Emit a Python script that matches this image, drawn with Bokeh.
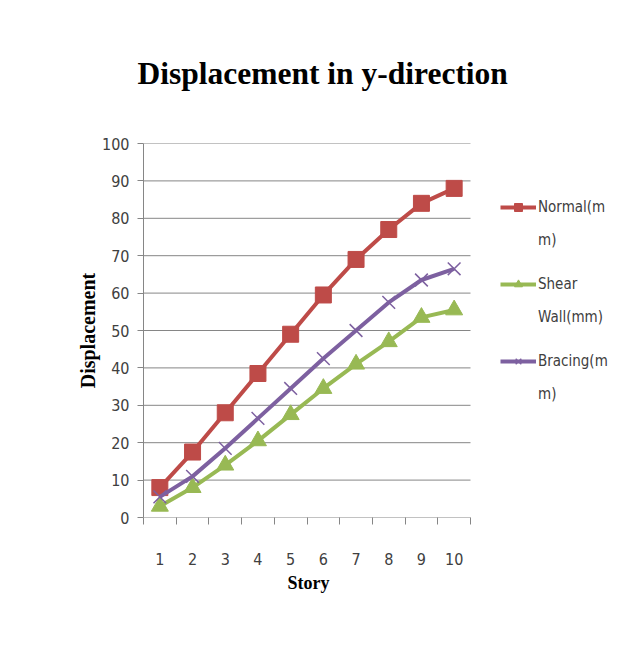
from bokeh.plotting import figure
from bokeh.models import FixedTicker, Legend, LegendItem, Range1d, Title
from bokeh.embed import file_html
from bokeh.resources import INLINE

stories = [1, 2, 3, 4, 5, 6, 7, 8, 9, 10]
story_labels = ["1", "2", "3", "4", "5", "6", "7", "8", "9", "10"]
normal = [8, 17.5, 28, 38.5, 49, 59.5, 69, 77, 84, 88]
shear_wall = [3, 8, 14, 20.5, 27.5, 34.5, 41, 47, 53.5, 55.5]
bracing = [5.5, 11, 18.5, 26.5, 34.5, 42.5, 50, 57.5, 63.5, 66.5]
y_ticks = [0, 10, 20, 30, 40, 50, 60, 70, 80, 90, 100]

RED = "#BE4B48"
GREEN = "#98B954"
PURPLE = "#7D60A0"
GRAY = "#868686"
NARROW = "DejaVu Sans Condensed"
SERIF = "Liberation Serif"

W, H = 615, 663
# plot area: categories occupy 327px; frame extends right to host the legend
CAT_PX = 32.7
FRAME_LEFT, FRAME_RIGHT = 143, 615
FRAME_TOP, FRAME_BOTTOM = 143, 517
x_lo = stories[0] - 0.5
x_hi = stories[-1] + 0.5
x_end = x_lo + (FRAME_RIGHT - FRAME_LEFT) / CAT_PX

p = figure(width=W, height=H, output_backend="svg", toolbar_location=None,
           x_range=Range1d(x_lo, x_end), y_range=Range1d(0, 100),
           min_border_left=FRAME_LEFT, min_border_right=W - FRAME_RIGHT,
           min_border_top=FRAME_TOP, min_border_bottom=H - FRAME_BOTTOM)
p.background_fill_color = "white"
p.border_fill_color = "white"
p.outline_line_color = None

p.title.text = "Displacement in y-direction"
p.title.text_font = SERIF
p.title.text_font_style = "bold"
p.title.text_font_size = "31.5px"
p.title.align = "left"
p.title.offset = -6
p.title.text_color = "black"
p.title.standoff = 106

# x axis
p.xaxis.ticker = FixedTicker(ticks=stories, minor_ticks=[s - 0.5 for s in stories] + [x_hi])
p.xaxis.major_label_overrides = {s: l for s, l in zip(stories, story_labels)}
p.xaxis.major_tick_line_color = None
p.xaxis.minor_tick_in = 0
p.xaxis.minor_tick_out = 7
p.xaxis.minor_tick_line_color = GRAY
p.xaxis.axis_line_color = None
p.xaxis.major_label_standoff = 28
p.xaxis.major_label_text_font = NARROW
p.xaxis.major_label_text_font_size = "16px"
p.xaxis.major_label_text_color = "#404040"

story_title = Title(text="Story", align="left", offset=144, standoff=6,
                    text_font=SERIF, text_font_style="bold", text_font_size="18px",
                    text_color="black")
p.add_layout(story_title, "below")

# y axis
p.yaxis.ticker = FixedTicker(ticks=y_ticks)
p.yaxis.minor_tick_line_color = None
p.yaxis.major_tick_in = 0
p.yaxis.major_tick_out = 6
p.yaxis.major_tick_line_color = GRAY
p.yaxis.axis_line_color = GRAY
p.yaxis.major_label_standoff = 8
p.yaxis.major_label_text_font = NARROW
p.yaxis.major_label_text_font_size = "16px"
p.yaxis.major_label_text_color = "#404040"
p.yaxis.axis_label = "Displacement"
p.yaxis.axis_label_text_font = SERIF
p.yaxis.axis_label_text_font_style = "bold"
p.yaxis.axis_label_text_font_size = "20px"
p.yaxis.axis_label_standoff = 0
p.yaxis.axis_label_text_color = "black"

# horizontal gridlines only across the category area
p.xgrid.grid_line_color = None
p.ygrid.grid_line_color = None
p.segment(x0=[x_lo] * len(y_ticks), y0=y_ticks, x1=[x_hi] * len(y_ticks), y1=y_ticks,
          line_color=GRAY, line_width=1)

l1 = p.line(stories, normal, line_color=RED, line_width=4)
m1 = p.scatter(stories, normal, marker="square", size=16, fill_color=RED, line_color=RED)
l2 = p.line(stories, shear_wall, line_color=GREEN, line_width=4)
m2 = p.scatter(stories, shear_wall, marker="triangle", size=17, fill_color=GREEN, line_color=GREEN)
l3 = p.line(stories, bracing, line_color=PURPLE, line_width=4)
m3 = p.scatter(stories, bracing, marker="x", size=18, line_color=PURPLE, line_width=1.5)
blank = p.scatter(x=[], y=[], alpha=0)

def style(lg):
    lg.border_line_color = None
    lg.background_fill_alpha = 0
    lg.label_text_font = NARROW
    lg.label_text_font_size = "15px"
    lg.label_text_color = "#404040"
    lg.glyph_width = 36
    lg.glyph_height = 20
    lg.label_height = 20
    lg.spacing = 57
    lg.padding = 0
    lg.margin = 0
    lg.label_standoff = 2

legend_a = Legend(items=[
    LegendItem(label="Normal(m", renderers=[l1, m1]),
    LegendItem(label="Shear", renderers=[l2, m2]),
    LegendItem(label="Bracing(m", renderers=[l3, m3]),
], location=(357, 146))
legend_b = Legend(items=[
    LegendItem(label="m)", renderers=[blank]),
    LegendItem(label="Wall(mm)", renderers=[blank]),
    LegendItem(label="m)", renderers=[blank]),
], location=(357, 113))
style(legend_a)
style(legend_b)
p.add_layout(legend_a, "center")
p.add_layout(legend_b, "center")

open("out.html", "w").write(file_html(p, INLINE))
